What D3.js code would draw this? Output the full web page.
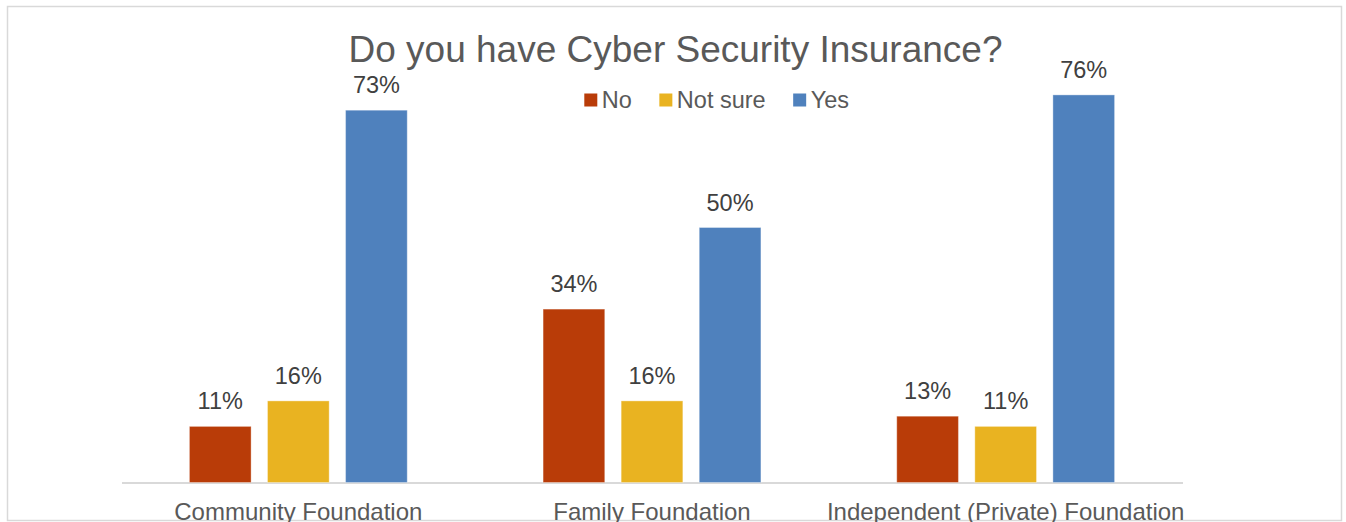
<!DOCTYPE html>
<html>
<head>
<meta charset="utf-8">
<script src="https://cdn.jsdelivr.net/npm/d3@7"></script>
<style>
  html, body { margin: 0; padding: 0; background: #fff; }
  svg { display: block; font-family: "Liberation Sans", Arial, sans-serif; }
</style>
</head>
<body>
<svg id="chart" width="1346" height="522"></svg>
<script>
// Survey answers per foundation type (percent)
const categories = ["Community Foundation", "Family Foundation", "Independent (Private) Foundation"];
const seriesNames = ["No", "Not sure", "Yes"];
const noValues = [11, 34, 13];
const notSureValues = [16, 16, 11];
const yesValues = [73, 50, 76];
const seriesColors = ["#B93C08", "#E9B321", "#4F81BD"];
const titleText = "Do you have Cyber Security Insurance?";

const seriesValues = [noValues, notSureValues, yesValues];
const rows = categories.map((c, i) => ({
  category: c,
  values: seriesNames.map((s, j) => ({ series: s, value: seriesValues[j][i], color: seriesColors[j] }))
}));

const svg = d3.select("#chart");

// chart frame
svg.append("rect")
  .attr("x", 7.5).attr("y", 6.5)
  .attr("width", 1334).attr("height", 514)
  .attr("fill", "#fff")
  .attr("stroke", "#D9D9D9").attr("stroke-width", 1.5);

const plot = { left: 121.5, right: 1182.5, top: 74.5, bottom: 482.5 };

const x0 = d3.scaleBand().domain(categories).range([plot.left, plot.right]);
const x1 = d3.scaleBand().domain(seriesNames)
  .range([0, x0.bandwidth()])
  .paddingInner(0.21).paddingOuter(0.87);
const y = d3.scaleLinear().domain([0, 80]).range([plot.bottom, plot.top]);

// category axis
const xAxis = svg.append("g")
  .attr("transform", `translate(0,${plot.bottom})`)
  .call(d3.axisBottom(x0).tickSize(0).tickPadding(0));
xAxis.select(".domain").attr("stroke", "#D9D9D9").attr("stroke-width", 2);
xAxis.selectAll("text")
  .attr("fill", "#595959")
  .attr("font-size", "24px")
  .attr("dy", null)
  .attr("y", 37.5)
  .style("font-family", "'Liberation Sans', Arial, sans-serif");

// bars
const groups = svg.append("g").selectAll("g")
  .data(rows).join("g")
  .attr("transform", d => `translate(${x0(d.category)},0)`);

groups.selectAll("rect")
  .data(d => d.values).join("rect")
  .attr("x", d => x1(d.series))
  .attr("width", x1.bandwidth())
  .attr("y", d => y(d.value))
  .attr("height", d => y(0) - y(d.value))
  .attr("fill", d => d.color)
  .attr("stroke", "rgba(255,255,255,0.35)")
  .attr("stroke-width", 1);

// value labels
groups.selectAll("text")
  .data(d => d.values).join("text")
  .attr("x", d => x1(d.series) + x1.bandwidth() / 2)
  .attr("y", d => y(d.value) - 17)
  .attr("text-anchor", "middle")
  .attr("fill", "#404040")
  .attr("font-size", "23.5px")
  .text(d => d.value + "%");

// title
svg.append("text")
  .attr("x", 675.5).attr("y", 62)
  .attr("text-anchor", "middle")
  .attr("fill", "#595959")
  .attr("font-size", "37px")
  .text(titleText);

// legend
const legend = svg.append("g").attr("transform", "translate(584.3,0)");
let lx = 0;
seriesNames.forEach((name, i) => {
  const item = legend.append("g").attr("transform", `translate(${lx},0)`);
  item.append("rect")
    .attr("x", 0).attr("y", 93.5)
    .attr("width", 13).attr("height", 13)
    .attr("fill", seriesColors[i]);
  const t = item.append("text")
    .attr("x", 17.5).attr("y", 108)
    .attr("fill", "#595959")
    .attr("font-size", "23.5px")
    .text(name);
  lx += 17.5 + t.node().getComputedTextLength() + 27.5;
});
</script>
</body>
</html>
